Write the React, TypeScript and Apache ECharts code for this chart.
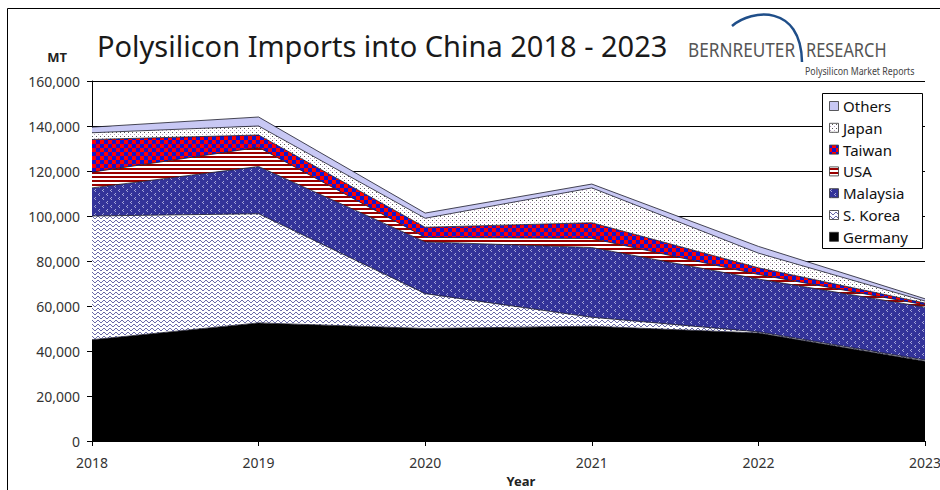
import React, { useEffect, useRef } from "react";
import * as echarts from "echarts";

const years = ["2018", "2019", "2020", "2021", "2022", "2023"];
const germany = [45000, 52500, 50000, 51000, 48000, 35500];
const sKorea = [55000, 48500, 15500, 4000, 500, 500];
const malaysia = [12500, 21000, 23000, 31000, 23500, 23500];
const usa = [7000, 8500, 2000, 4000, 2000, 1000];
const taiwan = [14500, 5500, 4500, 7000, 3000, 800];
const japan = [3000, 4000, 4000, 15500, 6500, 900];
const others = [2500, 4000, 2300, 1700, 3000, 1000];
const yTicks = { min: 0, max: 160000, interval: 20000 };

type Px = [number, number, number, number, string];

function makePattern(w: number, h: number, bg: string, px: Px[]) {
  const c = document.createElement("canvas");
  c.width = w;
  c.height = h;
  const ctx = c.getContext("2d")!;
  ctx.fillStyle = bg;
  ctx.fillRect(0, 0, w, h);
  px.forEach(([x, y, pw, ph, col]) => {
    ctx.fillStyle = col;
    ctx.fillRect(x, y, pw, ph);
  });
  return { image: c, repeat: "repeat", imageWidth: w, imageHeight: h } as any;
}

export default function App() {
  const ref = useRef<HTMLDivElement>(null);
  useEffect(() => {
    document.body.style.margin = "0";
    const chart = echarts.init(ref.current!, null, { renderer: "svg" });

    const wave = "#6a6aa8";
    const pSKorea = makePattern(6, 4, "#ffffff", [
      [0, 1, 1, 1, wave], [1, 0, 1, 1, wave], [2, 0, 1, 1, wave],
      [3, 1, 1, 1, wave], [4, 2, 1, 1, wave], [5, 2, 1, 1, wave],
    ]);
    const lt = "#a8a8d8";
    const pMalaysia = makePattern(8, 8, "#333399", [
      [3, 1, 1, 1, lt], [2, 2, 1, 1, lt], [3, 3, 1, 1, lt],
      [7, 5, 1, 1, lt], [6, 6, 1, 1, lt], [7, 7, 1, 1, lt],
    ]);
    const pUSA = makePattern(4, 4, "#ffffff", [[0, 0, 4, 2, "#990000"]]);
    const pTaiwan = makePattern(8, 8, "#1414cc", [
      [0, 0, 4, 4, "#ff0000"], [4, 4, 4, 4, "#ff0000"],
    ]);
    const pJapan = makePattern(4, 4, "#ffffff", [
      [0, 0, 1, 1, "#555555"], [2, 2, 1, 1, "#b8a0c0"],
    ]);
    const solidOthers = "#c8c8f4";
    const solidGermany = "#000000";

    const defs = [
      { name: "Germany", data: germany, fill: solidGermany as any },
      { name: "S. Korea", data: sKorea, fill: pSKorea },
      { name: "Malaysia", data: malaysia, fill: pMalaysia },
      { name: "USA", data: usa, fill: pUSA },
      { name: "Taiwan", data: taiwan, fill: pTaiwan },
      { name: "Japan", data: japan, fill: pJapan },
      { name: "Others", data: others, fill: solidOthers as any },
    ];

    const series = defs.map((d) => ({
      name: d.name,
      type: "line",
      stack: "total",
      data: d.data,
      symbol: "none",
      smooth: false,
      lineStyle: { color: "#1a1a2a", width: 0.8 },
      areaStyle: { color: d.fill, opacity: 1 },
    }));

    const legendItems = [...defs].reverse();
    const legendGraphics: any[] = [
      {
        type: "rect",
        shape: { x: 822.5, y: 93.5, width: 100, height: 155 },
        style: { fill: "#ffffff", stroke: "#000000", lineWidth: 1 },
        z: 10,
      },
    ];
    legendItems.forEach((d, i) => {
      const cy = 106 + i * 21.8;
      legendGraphics.push({
        type: "rect",
        shape: { x: 829.5, y: cy - 4.5, width: 9, height: 9 },
        style: { fill: d.fill, stroke: "#333333", lineWidth: 0.8 },
        z: 11,
      });
      legendGraphics.push({
        type: "text",
        x: 843,
        y: cy,
        style: {
          text: d.name,
          font: "15px 'Noto Sans'",
          fill: "#111111",
          verticalAlign: "middle",
          align: "left",
        },
        z: 11,
      });
    });

    chart.setOption({
      animation: false,
      backgroundColor: "#ffffff",
      grid: {
        left: 92,
        right: 15,
        top: 81,
        bottom: 49,
        containLabel: false,
        outerBoundsMode: "none",
      },
      xAxis: {
        type: "category",
        data: years,
        boundaryGap: false,
        axisLine: { show: true, lineStyle: { color: "#000", width: 1 } },
        axisTick: { show: true, length: 5, lineStyle: { color: "#000" } },
        axisLabel: {
          fontSize: 14,
          fontFamily: "Noto Sans",
          color: "#333333",
          margin: 14,
        },
        splitLine: { show: false },
      },
      yAxis: {
        type: "value",
        min: yTicks.min,
        max: yTicks.max,
        interval: yTicks.interval,
        axisLine: { show: true, lineStyle: { color: "#000", width: 1 } },
        axisTick: { show: true, length: 5, lineStyle: { color: "#000" } },
        axisLabel: {
          fontSize: 14,
          fontFamily: "Noto Sans",
          color: "#333333",
          margin: 12,
          formatter: (v: number) => v.toLocaleString("en-US"),
        },
        splitLine: { show: true, lineStyle: { color: "#000", width: 1 } },
      },
      series,
      graphic: [
        {
          type: "line",
          shape: { x1: 7.5, y1: 8.5, x2: 940, y2: 8.5 },
          style: { stroke: "#000", lineWidth: 1 },
        },
        {
          type: "line",
          shape: { x1: 7.5, y1: 8.5, x2: 7.5, y2: 490 },
          style: { stroke: "#000", lineWidth: 1 },
        },
        {
          type: "text",
          x: 97,
          y: 45,
          style: {
            text: "Polysilicon Imports into China 2018 - 2023",
            font: "29px 'Noto Sans'",
            fill: "#1a1a1a",
            verticalAlign: "middle",
          },
        },
        {
          type: "text",
          x: 57,
          y: 57,
          style: {
            text: "MT",
            font: "bold 13px 'Noto Sans'",
            fill: "#222",
            align: "center",
            verticalAlign: "middle",
          },
        },
        {
          type: "text",
          x: 521,
          y: 481,
          style: {
            text: "Year",
            font: "bold 13px 'Noto Sans'",
            fill: "#222",
            align: "center",
            verticalAlign: "middle",
          },
        },
        {
          type: "bezierCurve",
          shape: { x1: 732, y1: 26, cpx1: 752, cpy1: 9, cpx2: 801, cpy2: 4, x2: 802, y2: 62 },
          style: { stroke: "#1f4e89", lineWidth: 2.5, fill: "none" },
        },
        {
          type: "text",
          x: 688,
          y: 49,
          scaleX: 0.86,
          style: {
            text: "BERNREUTER",
            font: "20px 'Noto Sans'",
            fill: "#555555",
            verticalAlign: "middle",
          },
        },
        {
          type: "text",
          x: 806,
          y: 49,
          scaleX: 0.82,
          style: {
            text: "RESEARCH",
            font: "20px 'Noto Sans'",
            fill: "#555555",
            verticalAlign: "middle",
          },
        },
        {
          type: "text",
          x: 805,
          y: 71,
          scaleX: 0.8,
          style: {
            text: "Polysilicon Market Reports",
            font: "11px 'Noto Sans'",
            fill: "#444444",
            verticalAlign: "middle",
          },
        },
        ...legendGraphics,
      ],
    });
    return () => chart.dispose();
  }, []);
  return <div ref={ref} style={{ width: 940, height: 490 }} />;
}
